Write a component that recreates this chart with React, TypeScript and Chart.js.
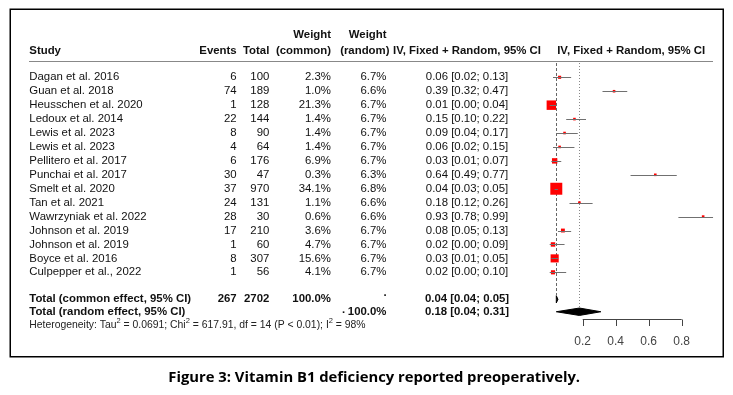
import React, { useEffect, useRef } from "react";
import { Chart, registerables } from "chart.js";
Chart.register(...registerables);

const studies = [
  "Dagan et al. 2016",
  "Guan et al. 2018",
  "Heusschen et al. 2020",
  "Ledoux et al. 2014",
  "Lewis et al. 2023",
  "Lewis et al. 2023",
  "Pellitero et al. 2017",
  "Punchai et al. 2017",
  "Smelt et al. 2020",
  "Tan et al. 2021",
  "Wawrzyniak et al. 2022",
  "Johnson et al. 2019",
  "Johnson et al. 2019",
  "Boyce et al. 2016",
  "Culpepper et al., 2022",
];
const events = [6, 74, 1, 22, 8, 4, 6, 30, 37, 24, 28, 17, 1, 8, 1];
const totals = [100, 189, 128, 144, 90, 64, 176, 47, 970, 131, 30, 210, 60, 307, 56];
const weightCommon = [2.3, 1.0, 21.3, 1.4, 1.4, 1.4, 6.9, 0.3, 34.1, 1.1, 0.6, 3.6, 4.7, 15.6, 4.1];
const weightRandom = [6.7, 6.6, 6.7, 6.7, 6.7, 6.7, 6.7, 6.3, 6.8, 6.6, 6.6, 6.7, 6.7, 6.7, 6.7];
const estimates = [0.06, 0.39, 0.01, 0.15, 0.09, 0.06, 0.03, 0.64, 0.04, 0.18, 0.93, 0.08, 0.02, 0.03, 0.02];
const lowers = [0.02, 0.32, 0.0, 0.1, 0.04, 0.02, 0.01, 0.49, 0.03, 0.12, 0.78, 0.05, 0.0, 0.01, 0.0];
const uppers = [0.13, 0.47, 0.04, 0.22, 0.17, 0.15, 0.07, 0.77, 0.05, 0.26, 0.99, 0.13, 0.09, 0.05, 0.1];

const commonSummary = [0.04, 0.04, 0.05];
const randomSummary = [0.18, 0.04, 0.31];
const totalEvents = 267;
const totalN = 2702;
const xTicks = [0.2, 0.4, 0.6, 0.8];
const caption = "Figure 3: Vitamin B1 deficiency reported preoperatively.";

const FONT = '"Liberation Sans", Arial, sans-serif';
const fmt2 = (v: number) => v.toFixed(2);
const ciText = (e: number, l: number, u: number) => `${fmt2(e)} [${fmt2(l)}; ${fmt2(u)}]`;

// row positions on the y scale
const ROW_COMMON = 15.94;
const ROW_RANDOM = 16.83;
const ROW_HET = 17.78;
const ROW_HEAD1 = -3.05;
const ROW_HEAD2 = -1.93;
const ROW_HEADLINE = -1.17;
const ROW_AXIS = 17.37;
const ROW_TICKLAB = 19.0;

export default function App() {
  const ref = useRef<HTMLCanvasElement>(null);
  useEffect(() => {
    const canvas = ref.current!;
    const forest = {
      id: "forest",
      beforeDatasetsDraw(chart: any) {
        const ctx = chart.ctx as CanvasRenderingContext2D;
        const xs = chart.scales.x;
        const ys = chart.scales.y;
        ctx.save();
        const topY = ys.getPixelForValue(ROW_HEADLINE) + 2;
        ctx.strokeStyle = "#666";
        ctx.lineWidth = 1;
        ctx.setLineDash([3, 2]);
        let px = Math.round(xs.getPixelForValue(commonSummary[0])) + 0.5;
        ctx.beginPath();
        ctx.moveTo(px, topY);
        ctx.lineTo(px, ys.getPixelForValue(ROW_COMMON) - 4);
        ctx.stroke();
        ctx.strokeStyle = "#888";
        ctx.setLineDash([1, 2]);
        px = Math.round(xs.getPixelForValue(randomSummary[0])) + 0.5;
        ctx.beginPath();
        ctx.moveTo(px, topY);
        ctx.lineTo(px, ys.getPixelForValue(ROW_RANDOM) - 3);
        ctx.stroke();
        ctx.restore();
      },
      afterDatasetsDraw(chart: any) {
        const ctx = chart.ctx as CanvasRenderingContext2D;
        const xs = chart.scales.x;
        const ys = chart.scales.y;
        ctx.save();
        // CI lines
        ctx.strokeStyle = "#707070";
        ctx.lineWidth = 1;
        estimates.forEach((_, i) => {
          const y = Math.round(ys.getPixelForValue(i)) + 0.5;
          ctx.beginPath();
          ctx.moveTo(xs.getPixelForValue(lowers[i]), y);
          ctx.lineTo(xs.getPixelForValue(uppers[i]), y);
          ctx.stroke();
        });
        // diamonds
        const diamond = (s: number[], row: number, h: number) => {
          const y = ys.getPixelForValue(row);
          ctx.beginPath();
          ctx.moveTo(xs.getPixelForValue(s[1]), y);
          ctx.lineTo(xs.getPixelForValue(s[0]), y - h);
          ctx.lineTo(xs.getPixelForValue(s[2]), y);
          ctx.lineTo(xs.getPixelForValue(s[0]), y + h);
          ctx.closePath();
          ctx.fillStyle = "#000";
          ctx.fill();
          ctx.strokeStyle = "#000";
          ctx.lineWidth = 1;
          ctx.stroke();
        };
        diamond(commonSummary, ROW_COMMON, 3.6);
        diamond(randomSummary, ROW_RANDOM, 3.7);

        // axis
        const ay = Math.round(ys.getPixelForValue(ROW_AXIS)) + 0.5;
        ctx.strokeStyle = "#444";
        ctx.lineWidth = 1;
        ctx.beginPath();
        ctx.moveTo(xs.getPixelForValue(xTicks[0]), ay);
        ctx.lineTo(xs.getPixelForValue(xTicks[xTicks.length - 1]), ay);
        xTicks.forEach((t) => {
          const tx = Math.round(xs.getPixelForValue(t)) + 0.5;
          ctx.moveTo(tx, ay);
          ctx.lineTo(tx, ay + 6.5);
        });
        ctx.stroke();
        ctx.fillStyle = "#444";
        ctx.font = `12px ${FONT}`;
        ctx.textAlign = "center";
        ctx.textBaseline = "middle";
        xTicks.forEach((t) => {
          ctx.fillText(String(t), xs.getPixelForValue(t), ys.getPixelForValue(ROW_TICKLAB));
        });

        const txt = (s: string, x: number, row: number, align: CanvasTextAlign, bold = false, size = 11.4, color = "#111") => {
          ctx.font = `${bold ? "bold " : ""}${size}px ${FONT}`;
          ctx.fillStyle = color;
          ctx.textAlign = align;
          ctx.textBaseline = "middle";
          ctx.fillText(s, x, ys.getPixelForValue(row));
        };
        const X_STUDY = 29.3, X_EV = 236.7, X_TOT = 269.3, X_WC = 331, X_WR = 386.5, X_CI = 467, X_CI2 = 631.2;

        // header
        txt("Weight", X_WC, ROW_HEAD1, "right", true);
        txt("Weight", X_WR, ROW_HEAD1, "right", true);
        txt("Study", X_STUDY, ROW_HEAD2, "left", true);
        txt("Events", X_EV, ROW_HEAD2, "right", true);
        txt("Total", X_TOT, ROW_HEAD2, "right", true);
        txt("(common)", X_WC, ROW_HEAD2, "right", true);
        txt("(random)", X_WR + 3, ROW_HEAD2, "right", true);
        txt("IV, Fixed + Random, 95% CI", X_CI, ROW_HEAD2, "center", true);
        txt("IV, Fixed + Random, 95% CI", X_CI2, ROW_HEAD2, "center", true);
        const hl = Math.round(ys.getPixelForValue(ROW_HEADLINE)) + 0.5;
        ctx.strokeStyle = "#888";
        ctx.lineWidth = 1;
        ctx.beginPath();
        ctx.moveTo(29, hl);
        ctx.lineTo(713, hl);
        ctx.stroke();

        // study rows
        studies.forEach((s, i) => {
          txt(s, X_STUDY, i, "left");
          txt(String(events[i]), X_EV, i, "right");
          txt(String(totals[i]), X_TOT, i, "right");
          txt(`${weightCommon[i].toFixed(1)}%`, X_WC, i, "right");
          txt(`${weightRandom[i].toFixed(1)}%`, X_WR, i, "right");
          txt(ciText(estimates[i], lowers[i], uppers[i]), X_CI, i, "center");
        });

        // totals
        txt("Total (common effect, 95% CI)", X_STUDY, ROW_COMMON, "left", true);
        txt(String(totalEvents), X_EV, ROW_COMMON, "right", true);
        txt(String(totalN), X_TOT, ROW_COMMON, "right", true);
        txt("100.0%", X_WC, ROW_COMMON, "right", true);
        txt(".", 385, ROW_COMMON - 0.5, "center", true);
        txt(ciText(commonSummary[0], commonSummary[1], commonSummary[2]), X_CI, ROW_COMMON, "center", true);
        txt("Total (random effect, 95% CI)", X_STUDY, ROW_RANDOM, "left", true);
        txt(".", 343.5, ROW_RANDOM - 0.1, "center", true);
        txt("100.0%", X_WR, ROW_RANDOM, "right", true);
        txt(ciText(randomSummary[0], randomSummary[1], randomSummary[2]), X_CI, ROW_RANDOM, "center", true);

        // heterogeneity with superscripts
        const parts: [string, boolean][] = [
          ["Heterogeneity: Tau", false],
          ["2", true],
          [" = 0.0691; Chi", false],
          ["2", true],
          [" = 617.91, df = 14 (P < 0.01); I", false],
          ["2", true],
          [" = 98%", false],
        ];
        let hx = X_STUDY;
        const hy = ys.getPixelForValue(ROW_HET);
        ctx.fillStyle = "#222";
        ctx.textAlign = "left";
        ctx.textBaseline = "middle";
        parts.forEach(([s, sup]) => {
          ctx.font = `${sup ? 7.5 : 10.4}px ${FONT}`;
          ctx.fillText(s, hx, sup ? hy - 4 : hy);
          hx += ctx.measureText(s).width;
        });

        // frame
        ctx.strokeStyle = "#000";
        ctx.lineWidth = 1.5;
        ctx.strokeRect(10.25, 9.25, 713, 347.5);

        // caption
        ctx.fillStyle = "#000";
        ctx.font = `bold 14.8px "Open Sans", Lato, sans-serif`;
        ctx.textAlign = "center";
        ctx.textBaseline = "middle";
        ctx.fillText(caption, 374.2, 378);
        ctx.restore();
      },
    };

    const chart = new Chart(canvas, {
      type: "scatter",
      data: {
        datasets: [
          {
            data: estimates.map((x, i) => ({ x, y: i })),
            pointStyle: "rect",
            pointRadius: weightCommon.map((w) => Math.max(2.6, 2.05 * Math.sqrt(w)) / Math.SQRT2),
            pointHoverRadius: 0,
            backgroundColor: "#ff0000",
            borderWidth: 0,
            clip: false as any,
          },
        ],
      },
      options: {
        responsive: false,
        animation: false,
        events: [],
        layout: { padding: { left: 549.7, right: 18.3, top: 63.37, bottom: 53.03 } },
        scales: {
          x: { type: "linear", min: 0, max: 1, display: false },
          y: { type: "linear", min: -1, max: 19, reverse: true, display: false },
        },
        plugins: { legend: { display: false }, tooltip: { enabled: false } },
      },
      plugins: [forest],
    });
    return () => chart.destroy();
  }, []);
  return (
    <div style={{ position: "fixed", left: 0, top: 0, width: 733, height: 395, background: "#fff" }}>
      <canvas ref={ref} width={733} height={395} style={{ position: "absolute", left: 0, top: 0, width: 733, height: 395 }} />
    </div>
  );
}
